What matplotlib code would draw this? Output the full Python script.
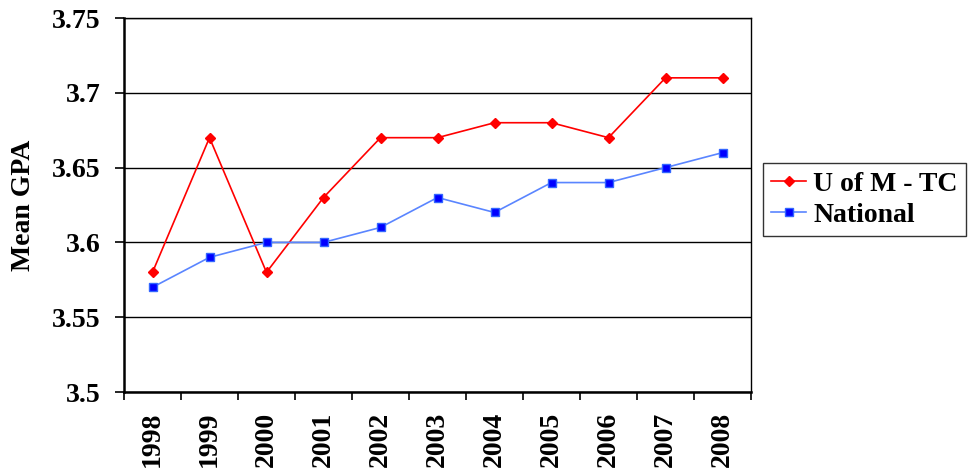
import numpy as np
import matplotlib.pyplot as plt

years = ['1998', '1999', '2000', '2001', '2002', '2003', '2004', '2005', '2006', '2007', '2008']
umtc_gpa = [3.58, 3.67, 3.58, 3.63, 3.67, 3.67, 3.68, 3.68, 3.67, 3.71, 3.71]
national_gpa = [3.57, 3.59, 3.60, 3.60, 3.61, 3.63, 3.62, 3.64, 3.64, 3.65, 3.66]
y_ticks = [3.5, 3.55, 3.6, 3.65, 3.7, 3.75]
y_tick_labels = ['3.5', '3.55', '3.6', '3.65', '3.7', '3.75']

plt.rcParams['font.family'] = ['Liberation Serif', 'DejaVu Serif']
plt.rcParams['font.weight'] = 'bold'

fig = plt.figure(figsize=(9.71, 4.72), dpi=100)
ax = fig.add_axes([124 / 971, 1 - 392 / 472, 627 / 971, 374 / 472])

x = np.arange(len(years))
ax.plot(x, umtc_gpa, color='#ff0000', lw=1.2, marker='D', ms=5.5,
        mfc='#ff0000', mec='#ff0000', label='U of M - TC', zorder=3)
ax.plot(x, national_gpa, color='#5a85ff', lw=1.2, marker='s', ms=5.5,
        mfc='#0000ff', mec='#3366ff', label='National', zorder=3)

ax.set_xlim(-0.5, len(years) - 0.5)
ax.set_ylim(3.5, 3.75)
ax.set_yticks(y_ticks)
ax.set_yticklabels(y_tick_labels, fontsize=20, fontweight='bold')
ax.yaxis.grid(True, color='black', lw=1.0)
ax.set_axisbelow(True)

# category labels centred, tick marks on the boundaries
ax.set_xticks(x)
ax.set_xticklabels(years, rotation=90, fontsize=20, fontweight='bold')
ax.tick_params(axis='x', which='major', length=0, pad=14)
ax.set_xticks(np.arange(-0.5, len(years), 1), minor=True)
ax.tick_params(axis='x', which='minor', length=6, width=1.2, direction='out')
ax.tick_params(axis='y', length=6.5, width=1.2, direction='out', pad=10.5)

for side in ['left', 'bottom']:
    ax.spines[side].set_linewidth(1.8)
ax.spines['top'].set_linewidth(1.0)
ax.spines['right'].set_linewidth(1.0)

ax.set_ylabel('Mean GPA', fontsize=20, fontweight='bold', labelpad=11)

leg = fig.legend(loc='upper left', bbox_to_anchor=(763 / 971, 1 - 163 / 472),
                 prop={'family': 'Liberation Serif', 'weight': 'bold', 'size': 20},
                 frameon=True, fancybox=False, edgecolor='black', handlelength=1.25,
                 handletextpad=0.25, borderpad=0.3, labelspacing=0.2, borderaxespad=0)
leg.get_frame().set_linewidth(1.0)

fig.savefig('out.png', dpi=100)
